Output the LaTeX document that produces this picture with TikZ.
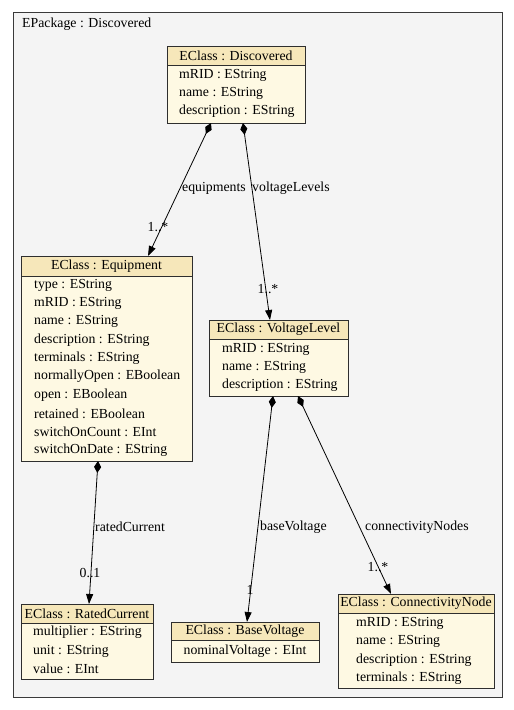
\documentclass[tikz,border=0pt]{standalone}
\usepackage{fontspec}
\setmainfont{Liberation Serif}
\usetikzlibrary{arrows.meta}
\definecolor{pkgfill}{HTML}{F4F4F4}
\definecolor{pkgline}{HTML}{3A3A3A}
\definecolor{headfill}{HTML}{F6E7BA}
\definecolor{bodyfill}{HTML}{FEF9E3}
\definecolor{boxline}{HTML}{2E2E2E}
\newcommand{\umlclass}[7]{%
  \node[draw=boxline, line width=0.9pt, fill=bodyfill, inner sep=0pt, anchor=north west,
        minimum width=#4pt-#2pt, minimum height=#6pt-#3pt] (#1) at (#2,#3) {};
  \fill[headfill] ([shift={(0.5pt,-0.5pt)}]#1.north west) rectangle (#4-0.5,#5);
  \draw[boxline, line width=0.9pt] (#1.north west) rectangle (#1.south east);
  \draw[boxline, line width=0.9pt] (#2,#5) -- (#4,#5);
  \node[txt] (#1-title) at ({(#2+#4)/2},{(#3+#5)/2}) {#7};
}
\begin{document}
\begin{tikzpicture}[x=1pt,y=-1pt,
  txt/.style={inner sep=0pt, font=\fontsize{13.8}{16}\selectfont},
  attr/.style={txt, anchor=west},
  lbl/.style={txt, anchor=west},
  mult/.style={txt},
  assoc/.style={line width=0.8pt, black, {Diamond[length=12pt,width=7pt]}-{Triangle[length=10pt,width=7pt]}}]
\useasboundingbox (0,0) rectangle (514,710);
\fill[white] (0,0) rectangle (514,710);
\node[draw=pkgline, fill=pkgfill, line width=0.9pt, inner sep=0pt, anchor=north west,
      minimum width=489pt, minimum height=685pt] (pkg) at (13,12) {};
\node[txt, anchor=west] (pkgtitle) at (22,24) {EPackage : Discovered};

% Discovered
\umlclass{disc}{167}{46}{305}{65}{123}{EClass : Discovered}
\node[attr] (d1) at (179,75) {mRID : EString};
\node[attr] (d2) at (179,93) {name : EString};
\node[attr] (d3) at (179,111) {description : EString};

% Equipment
\umlclass{equip}{21}{256}{192}{276}{461}{EClass : Equipment}
\foreach \t [count=\i from 0] in {type : EString, mRID : EString, name : EString, description : EString, terminals : EString, normallyOpen : EBoolean, open : EBoolean, retained : EBoolean, switchOnCount : EInt, switchOnDate : EString}
  \node[attr] (e\i) at (34,{285+18.33*\i}) {\t};

% VoltageLevel
\umlclass{vl}{209}{320}{348}{339}{396}{EClass : VoltageLevel}
\node[attr] (v1) at (222,349) {mRID : EString};
\node[attr] (v2) at (222,367) {name : EString};
\node[attr] (v3) at (222,385) {description : EString};

% RatedCurrent
\umlclass{rc}{21}{604}{153}{623}{679}{EClass : RatedCurrent}
\node[attr] (r1) at (33,632) {multiplier : EString};
\node[attr] (r2) at (33,651) {unit : EString};
\node[attr] (r3) at (33,669) {value : EInt};

% BaseVoltage
\umlclass{bv}{171}{622}{319}{640}{662}{EClass : BaseVoltage}
\node[txt] (b1) at (245,651) {nominalVoltage : EInt};

% ConnectivityNode
\umlclass{cn}{338}{594}{494}{613}{688}{EClass : ConnectivityNode}
\node[attr] (c1) at (356,623) {mRID : EString};
\node[attr] (c2) at (356,641) {name : EString};
\node[attr] (c3) at (356,660) {description : EString};
\node[attr] (c4) at (356,678) {terminals : EString};

% connector end points
\coordinate (s1) at (211,123); \coordinate (t1) at (148,256);
\coordinate (s2) at (243,123); \coordinate (t2) at (270,320);
\coordinate (s3) at (98,461);  \coordinate (t3) at (89,604);
\coordinate (s4) at (273,396); \coordinate (t4) at (247,622);
\coordinate (s5) at (298,396); \coordinate (t5) at (391,594);

\draw[assoc] (s1) -- (t1);
\draw[assoc] (s2) -- (t2);
\draw[assoc] (s3) -- (t3);
\draw[assoc] (s4) -- (t4);
\draw[assoc] (s5) -- (t5);

\node[lbl] (l1) at (182,188) {equipments};
\node[mult] (m1) at (158,227) {1..*};
\node[lbl] (l2) at (252,188) {voltageLevels};
\node[mult] (m2) at (268,289) {1..*};
\node[lbl] (l3) at (95,527) {ratedCurrent};
\node[mult] (m3) at (90,573) {0..1};
\node[lbl] (l4) at (260,527) {baseVoltage};
\node[mult] (m4) at (250,590) {1};
\node[lbl] (l5) at (365,527) {connectivityNodes};
\node[mult] (m5) at (378,567) {1..*};
\end{tikzpicture}
\end{document}
